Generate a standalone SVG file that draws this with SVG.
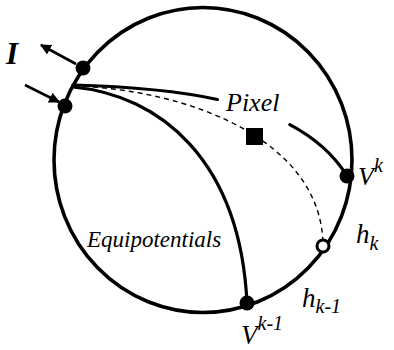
<svg xmlns="http://www.w3.org/2000/svg" width="394" height="350" viewBox="0 0 394 350">
<style>
.thick{fill:none;stroke:#000;stroke-width:3.6}
.curve{fill:none;stroke:#000;stroke-width:3.2;stroke-linecap:round}
.dash{fill:none;stroke:#000;stroke-width:1.4;stroke-dasharray:5 4}
.arr{fill:none;stroke:#000;stroke-width:2.6}
.dot{fill:#000}
.lbl{font-family:"Liberation Serif","DejaVu Serif","Times New Roman",serif;font-style:italic;fill:#000}
</style>
<defs>
<marker id="ah" viewBox="0 0 10 10" refX="9" refY="5" markerWidth="4.2" markerHeight="4.2" orient="auto" markerUnits="strokeWidth">
<path d="M0,0 L10,5 L0,10 z" fill="#000"/>
</marker>
</defs>
<g id="boundary">
<ellipse cx="203" cy="160" rx="149" ry="152.5" class="thick"/>
</g>
<g id="connectors">
<path class="curve" d="M73,85 C121.15,86.35 171.9,89.5 217.5,99.5"/>
<path class="curve" d="M289.8,124.7 C313.6,137.3 333.4,154 347,176"/>
<path class="curve" d="M73,87 C160,95 240,160 247,303"/>
<path class="dash" d="M75,86 C190,90 320,140 323,243"/>
<line class="arr" x1="76" y1="64" x2="41" y2="45" marker-end="url(#ah)"/>
<line class="arr" x1="25" y1="85" x2="59" y2="102" marker-end="url(#ah)"/>
</g>
<g id="node-I-out"><circle cx="83" cy="68" r="7.5" class="dot"/></g>
<g id="node-I-in"><circle cx="65" cy="106" r="7.5" class="dot"/></g>
<g id="node-Vk"><circle cx="347" cy="176" r="7.5" class="dot"/></g>
<g id="node-Vk-1"><circle cx="247" cy="303" r="7.5" class="dot"/></g>
<g id="node-hk"><circle cx="323" cy="246" r="6" fill="#fff" stroke="#000" stroke-width="3"/></g>
<g id="node-pixel"><rect x="246" y="128" width="17" height="17" fill="#000"/></g>
<g id="labels">
<text x="6" y="64" class="lbl" font-size="31" font-weight="bold">I</text>
<text x="226" y="111" class="lbl" font-size="26">Pixel</text>
<text x="87" y="247" class="lbl" font-size="23">Equipotentials</text>
<text x="358" y="185" class="lbl" font-size="26">V<tspan font-size="20" dy="-13">k</tspan></text>
<text x="356" y="243" class="lbl" font-size="27">h<tspan font-size="20" dy="7">k</tspan></text>
<text x="302" y="307" class="lbl" font-size="27">h<tspan font-size="20" dy="6">k-1</tspan></text>
<text x="241" y="344" class="lbl" font-size="27">V<tspan font-size="20" dy="-14">k-1</tspan></text>
</g>
</svg>
